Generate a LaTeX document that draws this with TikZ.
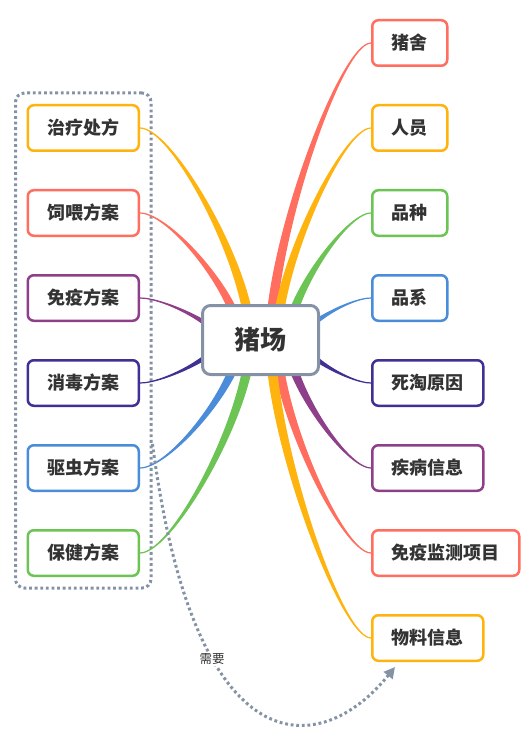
\documentclass[tikz,border=0pt]{standalone}
\usepackage{fontspec}
\setmainfont{Noto Sans CJK SC}
\usepackage{tikz}
\usetikzlibrary{arrows.meta,calc,fit}
\usepackage{xcolor}

\definecolor{coral}{HTML}{FF6E5E}
\definecolor{amber}{HTML}{FFB30F}
\definecolor{grass}{HTML}{6CC454}
\definecolor{sky}{HTML}{4A8CDA}
\definecolor{indig}{HTML}{3F3193}
\definecolor{plum}{HTML}{8E3F8A}
\definecolor{slate}{HTML}{8592A6}
\definecolor{ink}{HTML}{333333}

\pgfdeclarelayer{background}
\pgfsetlayers{background,main}

% half width of a branch at its root
\newcommand{\bw}{4.5pt}
% tapered branch: colour, root offset from hub centre, leaf anchor
\newcommand{\branch}[3]{%
  \filldraw[#1, line width=1.2pt] let \p1=($(hub.center)+(#2pt,0pt)$), \p2=(#3) in
    (\x1-\bw,\y1) .. controls (\x1-\bw,{\y1+(\y2-\y1)/3}) and ({\x2+0.3*(\x1-\x2)},\y2) .. (\p2)
    .. controls ({\x2+0.3*(\x1-\x2)},\y2) and (\x1+\bw,{\y1+(\y2-\y1)/3}) .. (\x1+\bw,\y1) -- cycle;}

\begin{document}
\begin{tikzpicture}[x=1pt, y=-1pt,
  leaf/.style={draw=#1, line width=2.5pt, rounded corners=6pt, fill=white, text=ink,
    minimum height=45.5pt, inner xsep=19.5pt, font=\fontsize{18}{20}\selectfont\bfseries},
  hubbox/.style={draw=slate, line width=3pt, rounded corners=8pt, fill=white, text=ink,
    minimum width=116pt, minimum height=69pt, font=\fontsize{26}{28}\selectfont\bfseries},
  grpbox/.style={draw=slate, line width=3pt, dash pattern=on 2.8pt off 2.8pt, rounded corners=9pt,
    inner xsep=11pt, inner ysep=11pt},
  rel/.style={draw=slate, line width=3pt, dash pattern=on 2.8pt off 2.8pt,
    -{Triangle[length=11pt, width=11pt]}},
  rellabel/.style={fill=white, text=ink, inner sep=1pt, font=\fontsize{12.5}{14}\selectfont}
]
\useasboundingbox (0,0) rectangle (524,735);

\node[hubbox] (hub) at (260.5,340) {猪场};

% right side
\node[leaf=coral, anchor=west] (r1) at (371,43) {猪舍};
\node[leaf=amber, anchor=west] (r2) at (371,128) {人员};
\node[leaf=grass, anchor=west] (r3) at (371,213) {品种};
\node[leaf=sky, anchor=west] (r4) at (371,298) {品系};
\node[leaf=indig, anchor=west] (r5) at (371,383) {死淘原因};
\node[leaf=plum, anchor=west] (r6) at (371,468) {疾病信息};
\node[leaf=coral, anchor=west] (r7) at (371,553) {免疫监测项目};
\node[leaf=amber, anchor=west] (r8) at (371,638) {物料信息};

% left side
\node[leaf=amber, anchor=east] (l1) at (140,128) {治疗处方};
\node[leaf=coral, anchor=east] (l2) at (140,213) {饲喂方案};
\node[leaf=plum, anchor=east] (l3) at (140,298) {免疫方案};
\node[leaf=indig, anchor=east] (l4) at (140,383) {消毒方案};
\node[leaf=sky, anchor=east] (l5) at (140,468) {驱虫方案};
\node[leaf=grass, anchor=east] (l6) at (140,553) {保健方案};

\begin{pgfonlayer}{background}
\node[grpbox, fit=(l1)(l6)] (grp) {};
\branch{coral}{10}{r1.west}
\branch{amber}{16}{r2.west}
\branch{grass}{27}{r3.west}
\branch{sky}{40}{r4.west}
\branch{indig}{40}{r5.west}
\branch{plum}{27}{r6.west}
\branch{coral}{16}{r7.west}
\branch{amber}{10}{r8.west}
\branch{amber}{-10}{l1.east}
\branch{coral}{-20}{l2.east}
\branch{plum}{-40}{l3.east}
\branch{indig}{-40}{l4.east}
\branch{sky}{-20}{l5.east}
\branch{grass}{-10}{l6.east}
\end{pgfonlayer}

% relation from the group to the material node
\coordinate (tip) at ($(r8.south west)+(24pt,-5pt)$);
\draw[rel] (grp.east |- l5.north) .. controls (195,770) and (320,760) .. (tip);
\node[rellabel] (need) at (212,659) {需要};
\end{tikzpicture}
\end{document}
